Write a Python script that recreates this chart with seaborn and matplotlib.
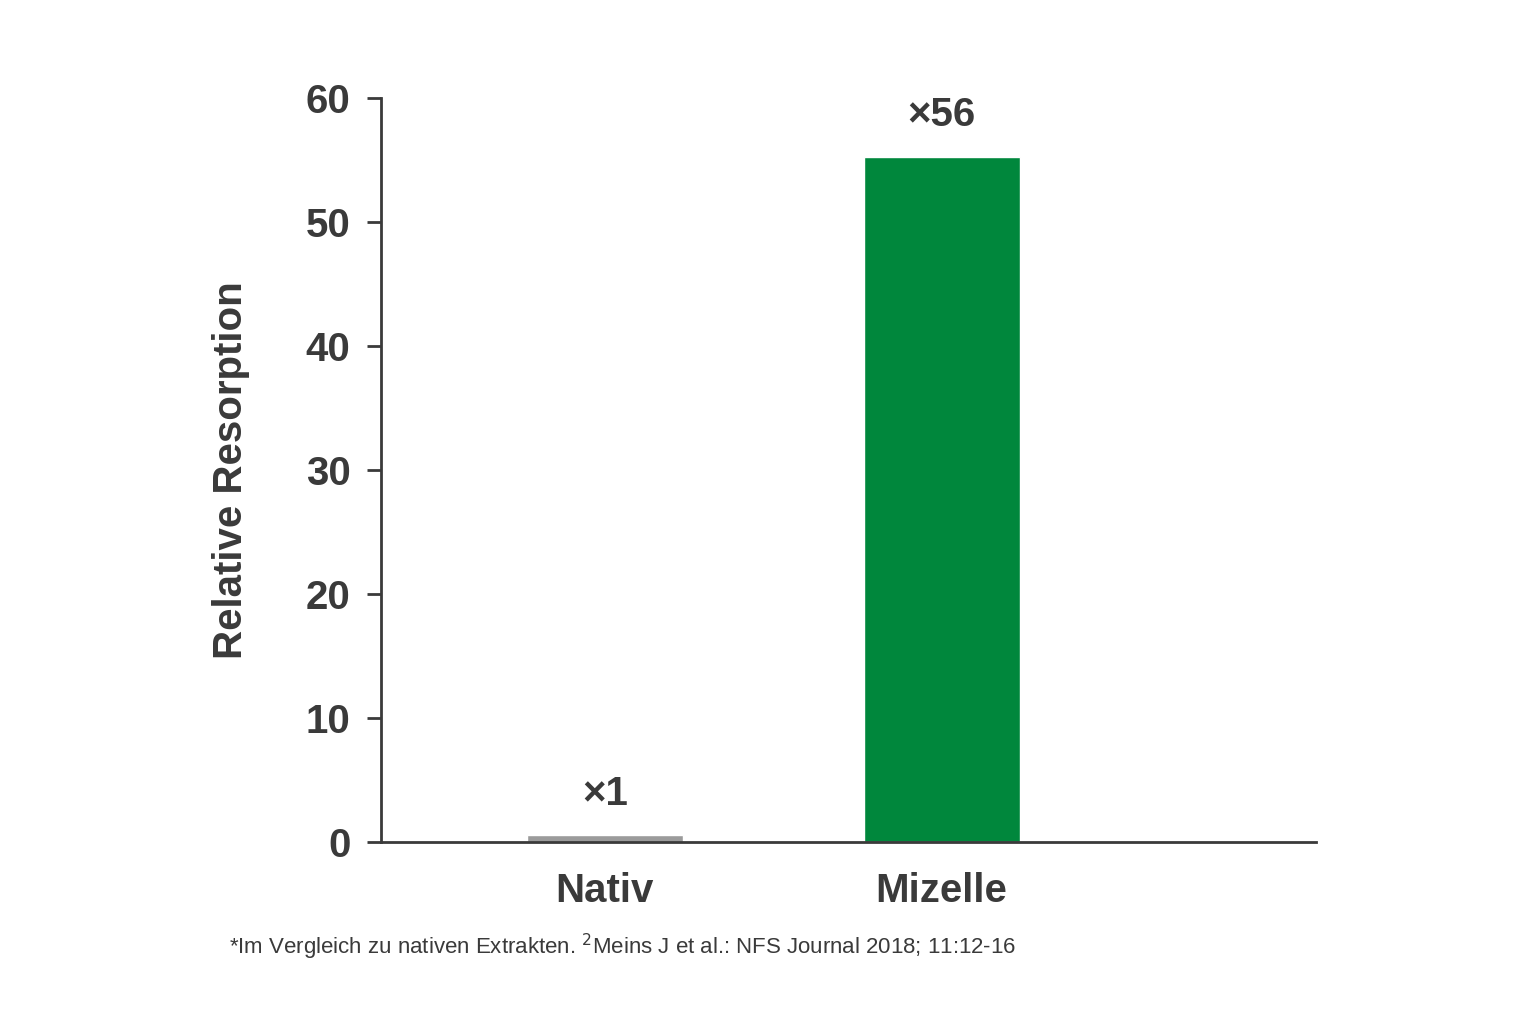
import matplotlib
matplotlib.use("Agg")
import matplotlib.pyplot as plt
import seaborn as sns
import pandas as pd

categories = ["Nativ", "Mizelle"]
values = [0.55, 55.3]
labels = ["×1", "×56"]
colors = ["#9b9b9b", "#00873c"]

sns.set_theme(style="white")
plt.rcParams['font.family'] = ['Liberation Sans', 'DejaVu Sans']
dark = "#3a3a3a"

fig = plt.figure(figsize=(15.36, 10.24), dpi=100)
ax = fig.add_axes([0.248, 0.178, 0.609, 0.726])

df = pd.DataFrame({"cat": categories, "val": values})
sns.barplot(data=df, x="cat", y="val", hue="cat", palette=colors, width=0.463,
            legend=False, ax=ax, saturation=1)

for i, (v, lab) in enumerate(zip(values, labels)):
    ax.text(i, v + 1.8, lab, ha="center", va="bottom", fontsize=29,
            fontweight="bold", color=dark)

ax.set_xlim(-0.665, 2.113)
ax.set_ylim(0, 60)
ax.set_yticks(range(0, 61, 10))
ax.set_xlabel("")
ax.set_ylabel("Relative Resorption", fontsize=29, fontweight="bold", color=dark, labelpad=40)
ax.tick_params(axis="y", labelsize=29, colors=dark, length=10, width=2, direction="out", left=True, pad=12)
ax.tick_params(axis="x", labelsize=29, colors=dark, length=0, pad=22)
for t in ax.get_xticklabels() + ax.get_yticklabels():
    t.set_fontweight("bold")
sns.despine(ax=ax)
for s in ["left", "bottom"]:
    ax.spines[s].set_linewidth(2)
    ax.spines[s].set_color(dark)

fig.text(0.149, 0.068, "*Im Vergleich zu nativen Extrakten. $^2$Meins J et al.: NFS Journal 2018; 11:12-16",
         fontsize=16, color=dark)

fig.savefig("out.png", dpi=100)
